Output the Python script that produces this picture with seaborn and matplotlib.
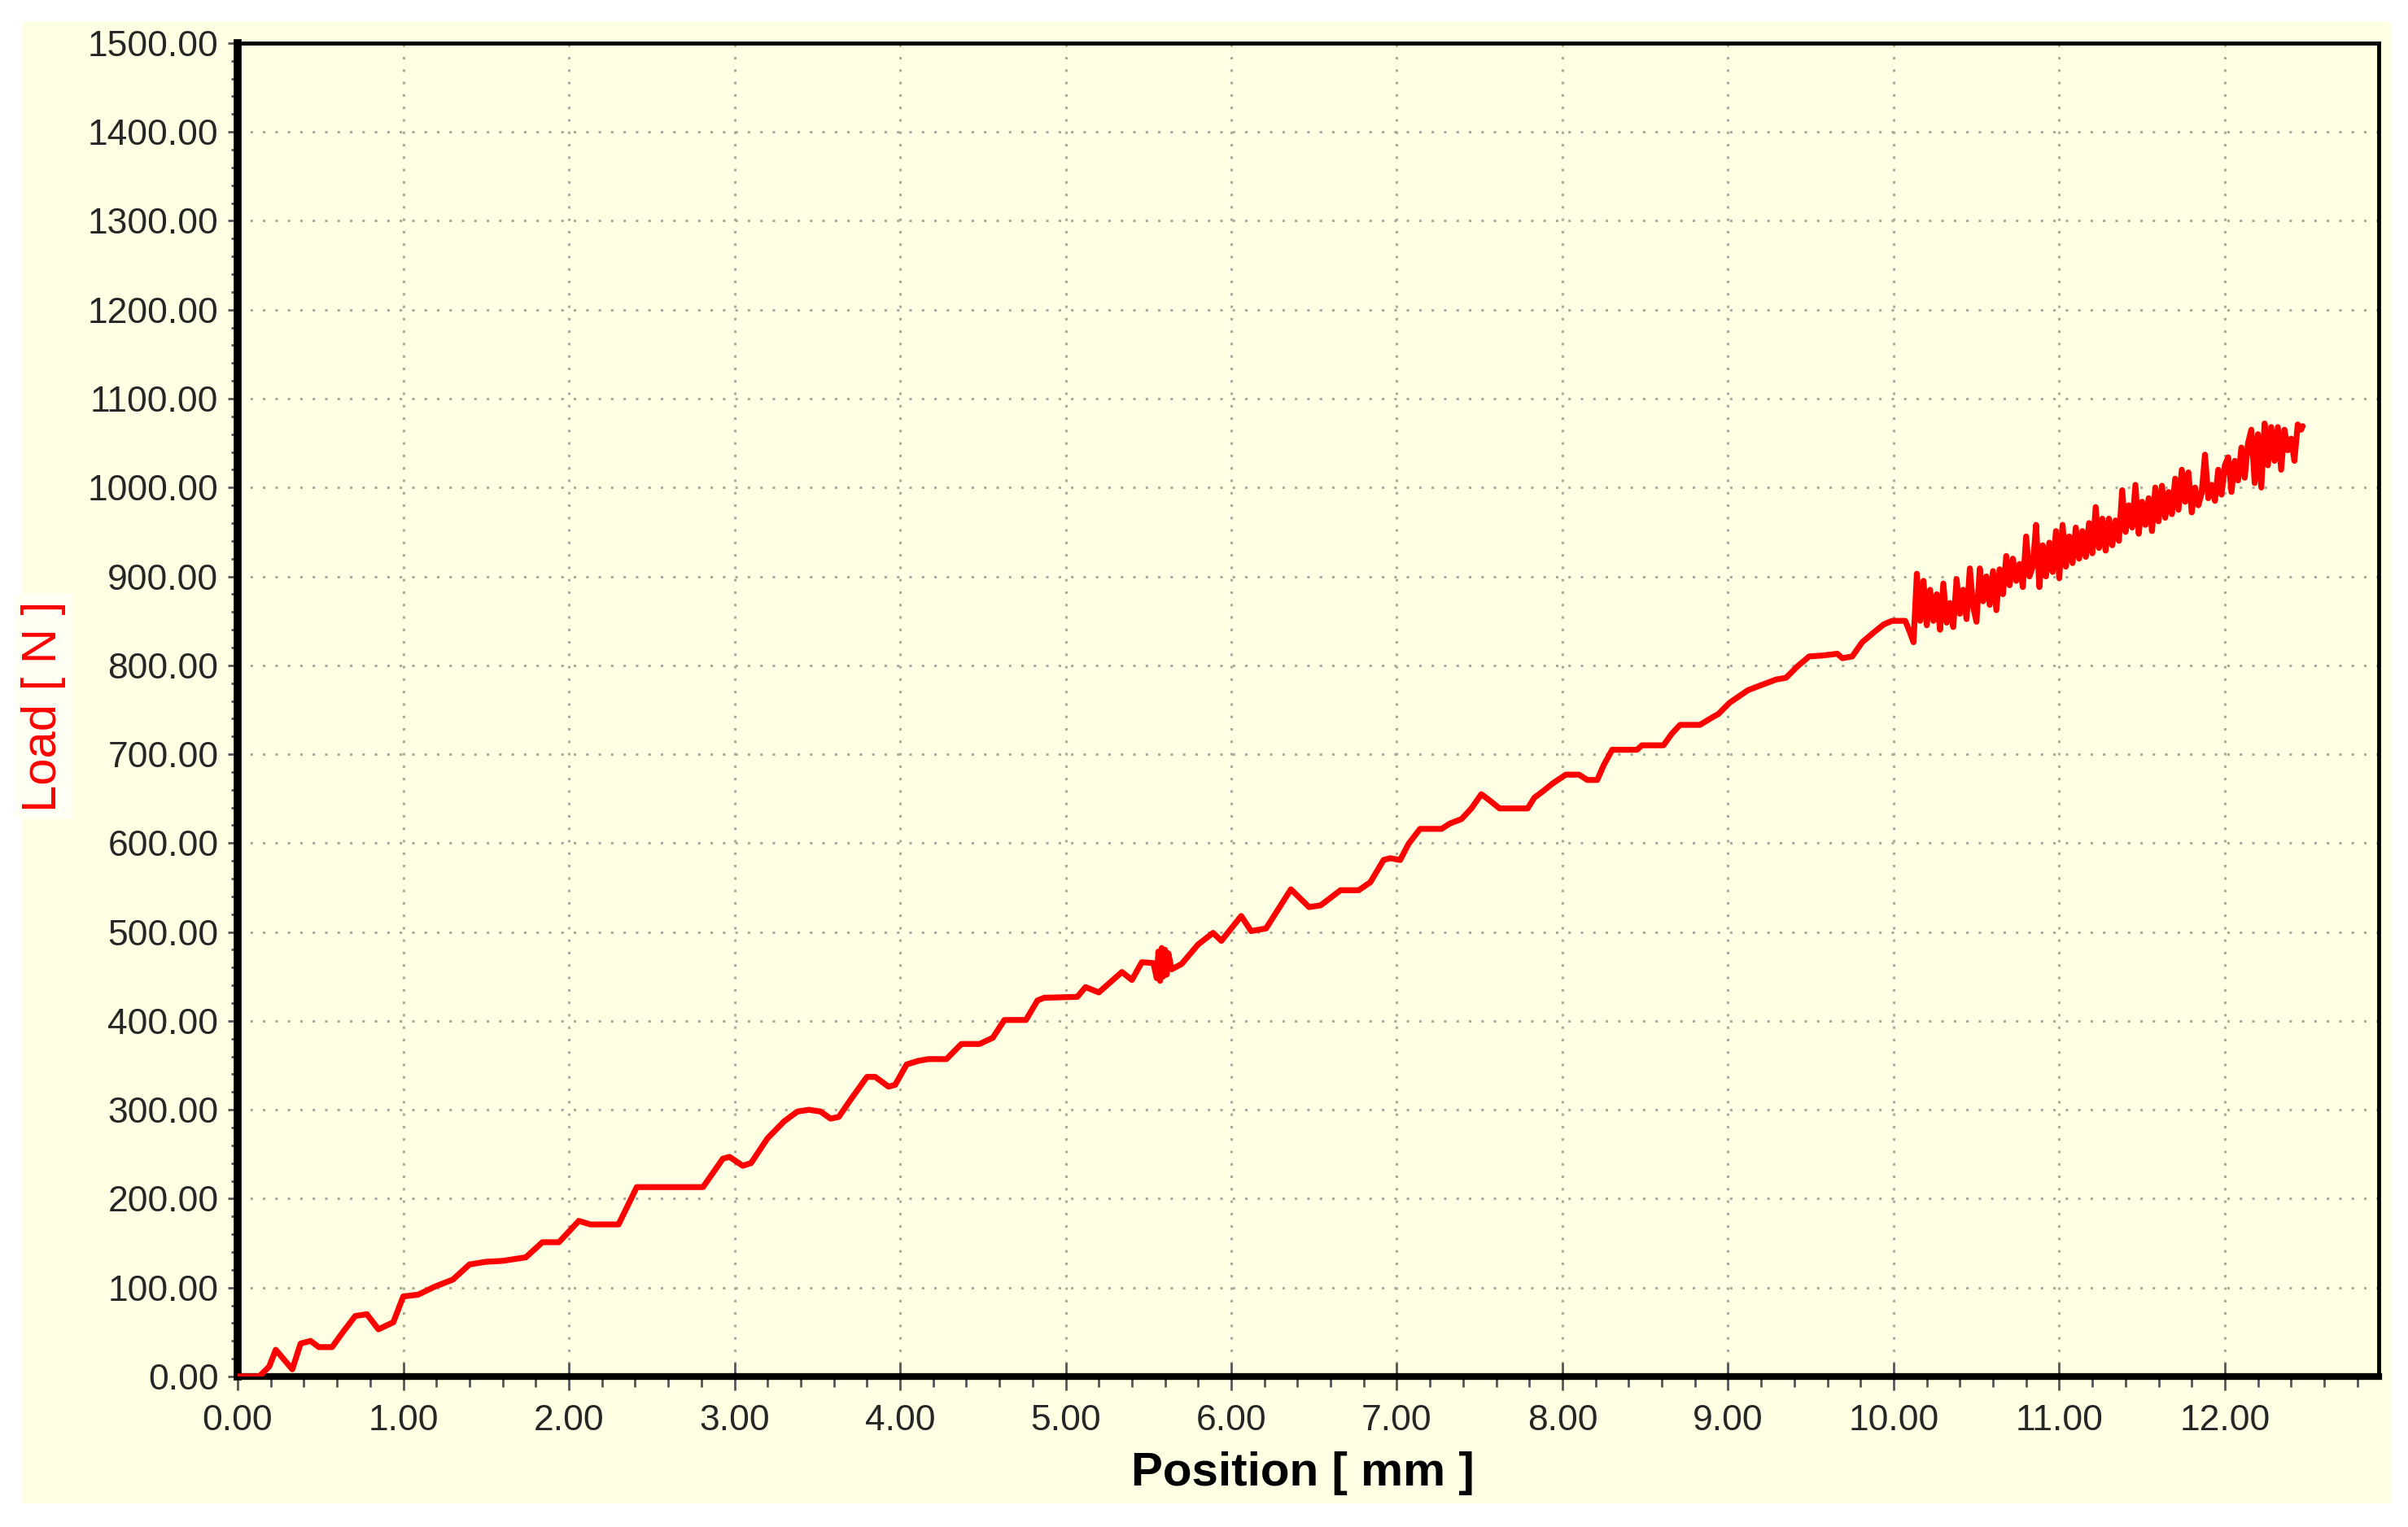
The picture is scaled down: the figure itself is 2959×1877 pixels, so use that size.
# Load vs position curve (tensile test readout)

import numpy as np
import pandas as pd
import matplotlib
matplotlib.use("Agg")
import matplotlib.pyplot as plt
import seaborn as sns
from matplotlib.patches import Rectangle
from matplotlib.ticker import MultipleLocator, FormatStrFormatter


# ============================================
# DATA
# ============================================

# smooth-ish part of the curve, 0 - 10.12 mm
position_mm = [
    0.00, 0.13, 0.19, 0.23, 0.33, 0.38, 0.44, 0.49, 0.57, 0.64,
    0.71, 0.78, 0.85, 0.94, 1.00, 1.09, 1.19, 1.30, 1.40, 1.50,
    1.60, 1.74, 1.84, 1.94, 2.06, 2.13, 2.30, 2.41, 2.81, 2.93,
    2.97, 3.05, 3.10, 3.20, 3.30, 3.38, 3.45, 3.52, 3.58, 3.63,
    3.70, 3.80, 3.85, 3.93, 3.97, 4.04, 4.11, 4.17, 4.28, 4.37,
    4.48, 4.56, 4.63, 4.76, 4.83, 4.87, 5.07, 5.12, 5.20, 5.34,
    5.40, 5.46, 5.53, 5.55, 5.56, 5.57, 5.58, 5.59, 5.60, 5.61,
    5.62, 5.64, 5.70, 5.80, 5.89, 5.94, 6.06, 6.12, 6.21, 6.36,
    6.47, 6.54, 6.66, 6.77, 6.84, 6.92, 6.96, 7.02, 7.07, 7.14,
    7.27, 7.32, 7.39, 7.45, 7.51, 7.56, 7.62, 7.79, 7.83, 7.88,
    7.94, 8.02, 8.10, 8.15, 8.21, 8.25, 8.30, 8.45, 8.48, 8.61,
    8.66, 8.71, 8.83, 8.91, 8.94, 9.01, 9.12, 9.19, 9.29, 9.35,
    9.42, 9.49, 9.57, 9.66, 9.69, 9.75, 9.81, 9.88, 9.94, 9.99,
    10.07, 10.09, 10.12,
]

load_n = [
    0, 0, 11, 30, 8, 37, 40, 33, 33, 51,
    68, 70, 53, 61, 90, 92, 101, 109, 126, 129,
    130, 134, 151, 151, 175, 171, 171, 213, 213, 245,
    247, 237, 240, 268, 287, 298, 300, 298, 290, 292,
    311, 337, 337, 326, 328, 351, 355, 357, 357, 374,
    374, 381, 401, 401, 423, 426, 427, 438, 432, 455,
    446, 466, 465, 448, 478, 445, 482, 450, 480, 452,
    476, 458, 464, 486, 499, 490, 518, 501, 504, 548,
    528, 530, 547, 547, 556, 581, 583, 581, 599, 616,
    616, 622, 627, 639, 655, 648, 639, 639, 651, 658,
    667, 677, 677, 671, 671, 688, 705, 705, 710, 710,
    723, 733, 733, 742, 745, 758, 772, 777, 784, 786,
    799, 810, 811, 813, 808, 810, 826, 837, 846, 850,
    850, 841, 826,
]

# noisy tail, 10.14 - 12.47 mm
noisy_position_mm = [
    10.14, 10.16, 10.18, 10.20, 10.22, 10.24, 10.26, 10.28, 10.30, 10.32,
    10.34, 10.36, 10.38, 10.40, 10.42, 10.44, 10.46, 10.48, 10.50, 10.52,
    10.54, 10.56, 10.58, 10.60, 10.62, 10.64, 10.66, 10.68, 10.70, 10.72,
    10.74, 10.76, 10.78, 10.80, 10.82, 10.84, 10.86, 10.88, 10.90, 10.92,
    10.94, 10.96, 10.98, 11.00, 11.02, 11.04, 11.06, 11.08, 11.10, 11.12,
    11.14, 11.16, 11.18, 11.20, 11.22, 11.24, 11.26, 11.28, 11.30, 11.32,
    11.34, 11.36, 11.38, 11.40, 11.42, 11.44, 11.46, 11.48, 11.50, 11.52,
    11.54, 11.56, 11.58, 11.60, 11.62, 11.64, 11.66, 11.68, 11.70, 11.72,
    11.74, 11.76, 11.78, 11.80, 11.82, 11.84, 11.86, 11.88, 11.90, 11.92,
    11.94, 11.96, 11.98, 12.00, 12.02, 12.04, 12.06, 12.08, 12.10, 12.12,
    12.14, 12.16, 12.18, 12.20, 12.22, 12.24, 12.26, 12.28, 12.30, 12.32,
    12.34, 12.36, 12.38, 12.40, 12.42, 12.44, 12.46, 12.47,
]

noisy_load_n = [
    903, 850, 895, 845, 885, 850, 880, 840, 892, 848,
    870, 843, 897, 858, 885, 852, 909, 866, 849, 909,
    872, 900, 868, 906, 862, 908, 880, 923, 890, 920,
    895, 914, 888, 945, 900, 911, 958, 888, 935, 900,
    938, 905, 951, 898, 958, 911, 945, 915, 955, 920,
    951, 922, 960, 926, 978, 932, 965, 929, 965, 935,
    963, 940, 997, 950, 980, 955, 1003, 948, 984, 958,
    988, 951, 1000, 962, 1002, 966, 995, 970, 1010, 975,
    1020, 984, 1017, 972, 1000, 980, 994, 1037, 988, 1003,
    985, 1020, 992, 1025, 1034, 995, 1030, 1008, 1045, 1011,
    1050, 1065, 1005, 1060, 1000, 1072, 1025, 1068, 1030, 1068,
    1020, 1065, 1042, 1055, 1030, 1071, 1065, 1069,
]

BG = "#FFFFE3"
LINE_RED = "#FF0000"
GRID_GRAY = "#A9A99E"
TICK_GRAY = "#262626"


# ============================================
# STYLE
# ============================================

sns.set_theme(style="ticks")
plt.rcParams["font.family"] = ["Liberation Sans", "DejaVu Sans"]

df = pd.DataFrame({
    "Position": position_mm + noisy_position_mm,
    "Load": load_n + noisy_load_n,
})

fig = plt.figure(figsize=(29.59, 18.77), dpi=100, facecolor="white")

# light yellow panel with a thin white margin (kept behind the axes)
fig.patches.append(Rectangle((0.0091, 0.0155), 0.9834, 0.9702,
                             transform=fig.transFigure, facecolor=BG,
                             edgecolor="none", zorder=-5))

ax = fig.add_axes([0.0987, 0.0986, 0.8892, 0.8732])
ax.set_zorder(2)
ax.set_facecolor(BG)


# ============================================
# PLOT
# ============================================

sns.lineplot(data=df, x="Position", y="Load", ax=ax, color=LINE_RED,
             linewidth=5.2, sort=False, estimator=None, zorder=3)

ax.set_xlim(0, 12.93)
ax.set_ylim(0, 1500)

ax.xaxis.set_major_locator(MultipleLocator(1.0))
ax.xaxis.set_minor_locator(MultipleLocator(0.2))
ax.yaxis.set_major_locator(MultipleLocator(100))
ax.yaxis.set_minor_locator(MultipleLocator(20))
ax.xaxis.set_major_formatter(FormatStrFormatter("%.2f"))
ax.yaxis.set_major_formatter(FormatStrFormatter("%.2f"))

ax.grid(True, which="major", color=GRID_GRAY, linestyle=(0, (1, 4)),
        linewidth=2.2)
ax.set_axisbelow(True)

for side, lw in [("left", 7), ("bottom", 6), ("top", 3.5), ("right", 3.5)]:
    ax.spines[side].set_visible(True)
    ax.spines[side].set_color("black")
    ax.spines[side].set_linewidth(lw)

ax.tick_params(axis="x", which="major", direction="inout", length=25,
               width=2, color="#555555", pad=12, labelsize=32,
               labelcolor=TICK_GRAY)
ax.tick_params(axis="x", which="minor", direction="out", length=9,
               width=2, color="#555555")
ax.tick_params(axis="y", which="major", direction="out", length=9,
               width=2, color="#555555", pad=8, labelsize=32,
               labelcolor=TICK_GRAY)
ax.tick_params(axis="y", which="minor", direction="out", length=6,
               width=2, color="#555555")

ax.set_xlabel("Position [ mm ]", fontsize=42, fontweight="bold",
              color="black")
ax.xaxis.label.set_va("center")
ax.xaxis.set_label_coords(0.4975, -0.0726)

ax.set_ylabel("Load [ N ]", fontsize=43, color=LINE_RED,
              bbox=dict(facecolor="#FFFFF4", edgecolor="none", pad=6))
ax.yaxis.label.set_va("center")
ax.yaxis.set_label_coords(-0.0908, 0.5027)

fig.savefig("out.png", dpi=100, facecolor="white")
